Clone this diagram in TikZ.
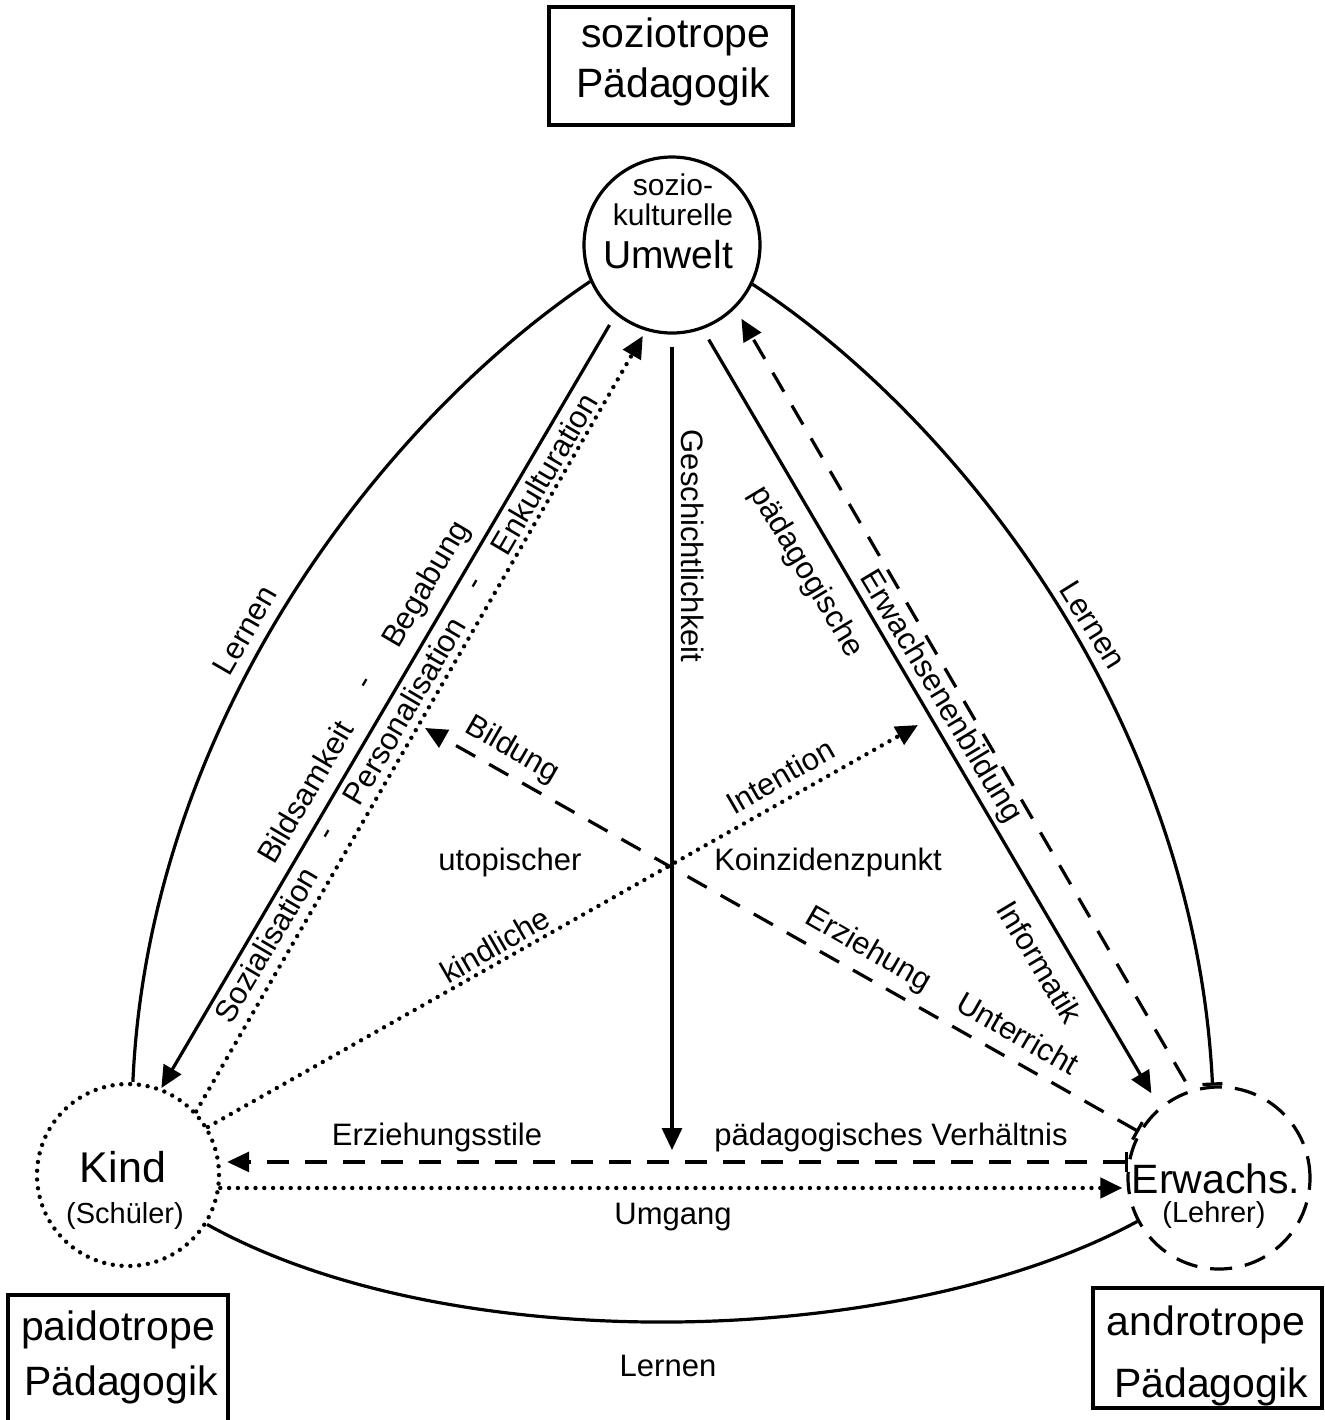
\documentclass[tikz,border=0pt]{standalone}
\usepackage{fontspec}
\setmainfont{Liberation Sans}
\usetikzlibrary{arrows.meta}
\begin{document}
\begin{tikzpicture}[x=0.5pt,y=-0.5pt,
  ln/.style={line width=1.6pt},
  dsh/.style={ln, dash pattern=on 11pt off 8pt},
  dot/.style={line width=2.2pt, line cap=round, dash pattern=on 0pt off 4.4pt},
  tip/.style={-{Triangle[length=11pt,width=10pt]}},
  bartip/.style={{Bar[width=10pt]}-{Triangle[length=11pt,width=10pt]}},
  circ/.style={circle, minimum size=#1, inner sep=0pt},
  box/.style={draw, line width=1.8pt, inner sep=0pt},
  lbl/.style={font=\fontsize{15.5}{17}\selectfont, inner sep=1pt},
  bigtxt/.style={font=\fontsize{20.5}{24}\selectfont, inner sep=0pt, anchor=base},
  midtxt/.style={font=\fontsize{15}{17}\selectfont, inner sep=0pt, anchor=base},
]
\useasboundingbox (0,0) rectangle (1324,1420);
\fill[white] (0,0) rectangle (1324,1420);

% main nodes
\node[circ=88pt, draw, ln] (umw) at (672,245) {};
\node[circ=91pt, draw, dot] (kind) at (128,1175) {};
\node[circ=91pt, draw, ln, dash pattern=on 11pt off 6.5pt] (erw) at (1219,1178) {};

% boxes
\node[box, minimum width=122pt, minimum height=59pt] (sbox) at (671,66) {};
\node[box, minimum width=110pt, minimum height=75pt, anchor=north] (pbox) at (118,1293) {};
\node[box, minimum width=114.5pt, minimum height=60pt] (abox) at (1207.5,1348) {};

% box texts
\node[bigtxt] (s1) at (676,47) {soziotrope};
\node[bigtxt] (s2) at (673,97) {Pädagogik};
\node[bigtxt] (p1) at (118,1340) {paidotrope};
\node[bigtxt] (p2) at (121,1395) {Pädagogik};
\node[bigtxt] (a1) at (1206,1335) {androtrope};
\node[bigtxt] (a2) at (1211,1397) {Pädagogik};

% circle texts
\node[midtxt] (u1) at (673,195) {sozio-};
\node[midtxt] (u2) at (673,225) {kulturelle};
\node[bigtxt, font=\fontsize{19.5}{22}\selectfont] (u3) at (668,268) {Umwelt};
\node[bigtxt, font=\fontsize{21.5}{24}\selectfont] (k1) at (123,1182) {Kind};
\node[midtxt, font=\fontsize{14.5}{17}\selectfont] (k2) at (125,1223) {(Schüler)};
\node[bigtxt] (e1) at (1216,1193) {Erwachs.};
\node[midtxt, font=\fontsize{14.5}{17}\selectfont] (e2) at (1214,1222) {(Lehrer)};

% Lernen arcs
\draw[ln] (kind.87) .. controls (149,720) and (384,420) .. (umw.204);
\draw[ln, -{Bar[width=10pt]}] (umw.-26) .. controls (960,420) and (1195,720) .. (erw.94);
\draw[ln] (kind.-32) .. controls (450,1360) and (900,1350) .. (erw.208);

% inner connectors
\draw[ln, tip, shorten <=6pt] (umw.231) -- (kind.69);
\draw[dot, tip, shorten >=3pt] (kind.43) -- (umw.253);
\coordinate (gk) at (672,1150);
\draw[ln, tip, shorten <=6pt] (umw.270) -- (gk);
\draw[ln, tip, shorten <=6pt, shorten >=8pt] (umw.-70) -- (erw.130.5);
\draw[dsh, tip, shorten <=5pt, shorten >=6pt] (erw.108) -- (umw.-45);

\coordinate (bt) at (425,728);
\draw[dsh, bartip] (erw.150) -- (bt);
\coordinate (it) at (918,725);
\draw[dot, tip] (kind.31) -- (it);

\draw[dsh, bartip, shorten >=3pt] (erw.170.6) -- (kind.east |- erw.170.6);
\draw[dot, tip, shorten >=2pt] (kind.-8) -- (erw.west |- kind.-8);

% labels
\node[lbl, rotate=60] (lL) at (245,630) {Lernen};
\node[lbl, rotate=-58] (lR) at (1093,625) {Lernen};
\node[lbl] (lB) at (668,1366) {Lernen};

\node[lbl, rotate=59.5] (bb1) at (305,792) {Bildsamkeit};
\node[lbl, rotate=59.5] (bb2) at (368,685) {-};
\node[lbl, rotate=59.5] (bb3) at (427,585) {Begabung};

\node[lbl, rotate=59.5] (sp1) at (266,945) {Sozialisation};
\node[lbl, rotate=59.5] (sp2) at (330,836) {-};
\node[lbl, rotate=59.5] (sp3) at (404,711) {Personalisation};
\node[lbl, rotate=59.5] (sp4) at (478,586) {-};
\node[lbl, rotate=59.5] (sp5) at (544,474) {Enkulturation};

\node[lbl, rotate=-90] (ge) at (693,546) {Geschichtlichkeit};
\node[lbl, rotate=-59] (pg) at (806,572) {pädagogische};
\node[lbl, rotate=-59] (inf) at (1040,962) {Informatik};
\node[lbl, rotate=-59] (eb) at (940,697) {Erwachsenenbildung};
\node[lbl, rotate=-30] (bi) at (512,750) {Bildung};
\node[lbl, rotate=-30] (ez) at (868,950) {Erziehung};
\node[lbl, rotate=-30] (ut) at (1018,1033) {Unterricht};
\node[lbl, rotate=30] (in) at (780,776) {Intention};
\node[lbl, rotate=30] (ki) at (495,945) {kindliche};
\node[lbl] (up) at (510,862) {utopischer};
\node[lbl] (kp) at (828,862) {Koinzidenzpunkt};
\node[lbl] (es) at (437,1137) {Erziehungsstile};
\node[lbl] (pv) at (891,1137) {pädagogisches Verhältnis};
\node[lbl] (um) at (673,1217) {Umgang};
\end{tikzpicture}
\end{document}
